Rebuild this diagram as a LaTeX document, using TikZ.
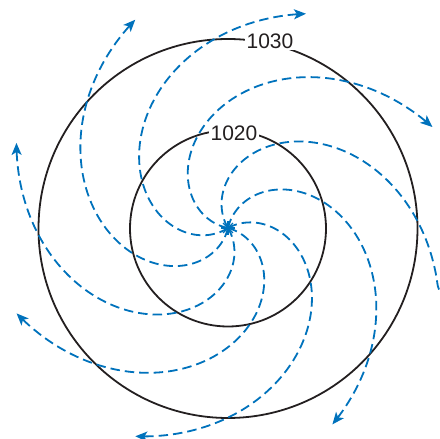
\documentclass[tikz,border=0pt]{standalone}
\usepackage{fontspec}
\setmainfont{Liberation Sans}
\usetikzlibrary{arrows.meta}
\definecolor{flowblue}{RGB}{0,114,188}
\definecolor{isoblack}{RGB}{35,31,32}
\begin{document}
\begin{tikzpicture}[x=1pt,y=1pt,
  isobar/.style={line width=1.8pt, draw=isoblack},
  flow/.style={line width=1.8pt, draw=flowblue, dash pattern=on 9.5pt off 5pt,
    -{Stealth[length=12pt,width=10pt,inset=3pt]}},
  lab/.style={fill=white, inner sep=1.5pt, text=isoblack, font=\fontsize{21}{21}\selectfont},
  starray/.style={line width=1.4pt, draw=flowblue}]
\clip (0,0) rectangle (440,439);
\coordinate (C) at (228,210.5);
\coordinate (S) at (228,211);
% isobars
\draw[isobar] (C) circle[radius=189.5];
\draw[isobar] (C) circle[radius=98];
\node[lab] (l1030) at (270,397.5) {1030};
\node[lab] (l1020) at (234,305.3) {1020};
% outflow spirals: start angle / length / outward boost near the end
\foreach \th/\sp/\bo in {168.8/142.5/0, 212.5/142.5/0, 256.5/142.5/0, 300.6/142.5/0,
                     344.5/142.5/0, 388.5/142.5/0, 437/139/0, 480.6/148/4}{
  \draw[flow] plot[domain=0:\sp, samples=100, variable=\u, smooth]
    ({228+(1.6*\u+\bo*max(0,\u-137))*cos(\th-\u)},
     {211+(1.6*\u+\bo*max(0,\u-137))*sin(\th-\u)});
}
% centre star
\foreach \a in {0,45,90,135}{
  \draw[starray] ([shift={(\a:7)}]S) -- ([shift={(\a+180:7)}]S);
}
\end{tikzpicture}
\end{document}
